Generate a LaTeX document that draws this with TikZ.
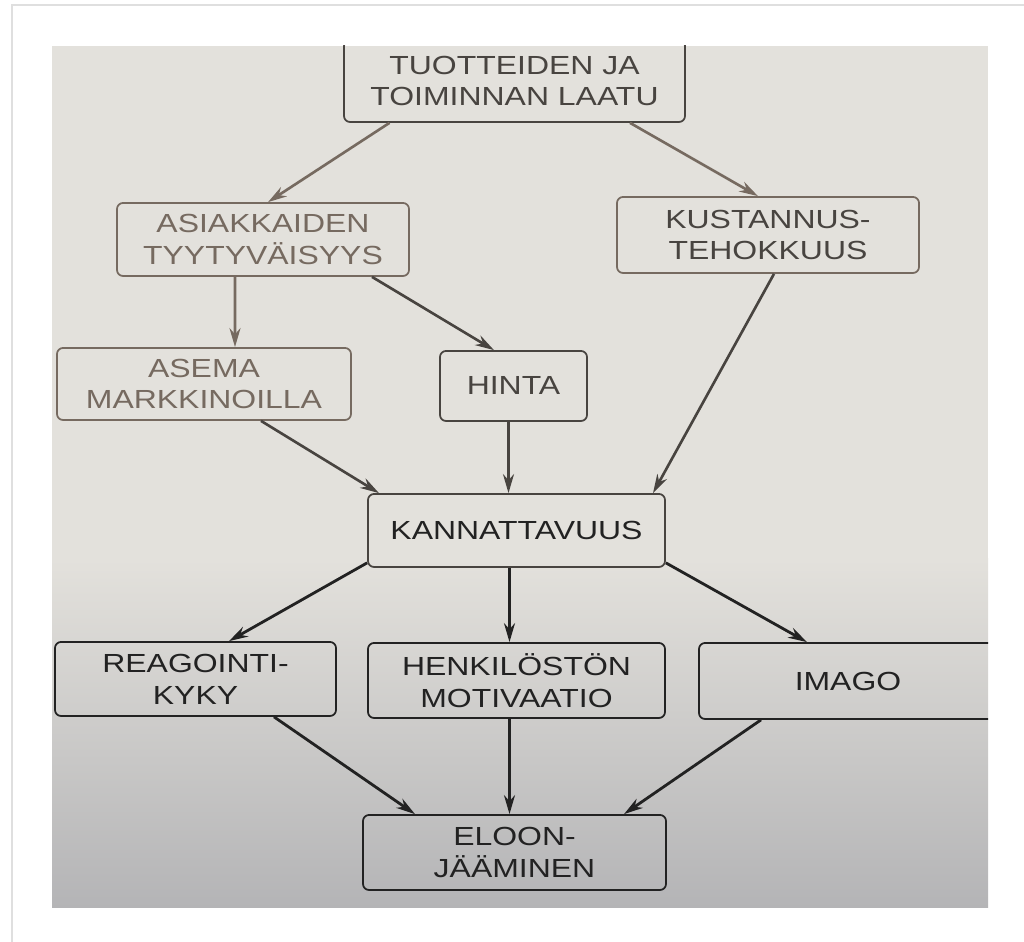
\documentclass[tikz,border=0pt]{standalone}
\usepackage{fontspec}
\setmainfont{Liberation Sans}[FakeStretch=1.22]
\usetikzlibrary{positioning,arrows.meta}
\definecolor{paper}{RGB}{227,225,220}
\definecolor{paperdark}{RGB}{180,180,182}
\definecolor{inkfade}{RGB}{118,106,96}
\definecolor{inkmid}{RGB}{72,68,64}
\definecolor{ink}{RGB}{34,34,34}

\begin{document}
\begin{tikzpicture}[>={Stealth[length=1.9mm,width=1.1mm]},
  box/.style={draw=#1,rounded corners=0.6mm,line width=0.5pt,inner sep=0pt,
    align=center,font=\fontsize{7.45}{9.1}\selectfont},
  faintarrow/.style={->,inkfade,line width=0.75pt},
  midarrow/.style={->,inkmid,line width=0.75pt},
  darkarrow/.style={->,ink,line width=0.8pt}]
\useasboundingbox (0,0) rectangle (10.24,-9.42);
\fill[white] (0,0) rectangle (10.24,-9.42);
\draw[gray!25,line width=0.8pt] (0.12,-9.42) -- (0.12,-0.05) -- (10.24,-0.05);
% photographed page
\fill[paper] (0.52,-0.46) rectangle (9.88,-5.6);
\shade[top color=paper,bottom color=paperdark] (0.52,-5.59) rectangle (9.88,-9.08);
\begin{scope}
\clip (0.52,-0.46) rectangle (9.88,-9.08);
\node[box=inkmid,text=inkmid,minimum width=3.41cm,minimum height=0.82cm] (laatu) at (5.145,-0.81) {TUOTTEIDEN JA\\TOIMINNAN LAATU};
\node[box=inkfade,text=inkfade,minimum width=2.92cm,minimum height=0.73cm] (tyyt) at (2.63,-2.395) {ASIAKKAIDEN\\TYYTYVÄISYYS};
\node[box=inkfade,text=inkmid,minimum width=3.02cm,minimum height=0.76cm] (kust) at (7.68,-2.35) {KUSTANNUS-\\TEHOKKUUS};
\node[box=inkfade,text=inkfade,minimum width=2.94cm,minimum height=0.72cm] (asema) at (2.04,-3.84) {ASEMA\\MARKKINOILLA};
\node[box=inkmid,text=inkmid,minimum width=1.47cm,minimum height=0.70cm] (hinta) at (5.135,-3.86) {HINTA};
\node[box=inkmid,text=ink,minimum width=2.97cm,minimum height=0.73cm] (kann) at (5.165,-5.305) {KANNATTAVUUS};
\node[box=ink,text=ink,minimum width=2.81cm,minimum height=0.74cm] (reag) at (1.955,-6.79) {REAGOINTI-\\KYKY};
\node[box=ink,text=ink,minimum width=2.97cm,minimum height=0.75cm] (motiv) at (5.165,-6.805) {HENKILÖSTÖN\\MOTIVAATIO};
\node[box=ink,text=ink,minimum width=2.98cm,minimum height=0.76cm] (imago) at (8.48,-6.81) {IMAGO};
\node[box=ink,text=ink,minimum width=3.03cm,minimum height=0.75cm] (eloon) at (5.145,-8.525) {ELOON-\\JÄÄMINEN};
% upper arrows
\draw[faintarrow] ([xshift=-1.25cm]laatu.south) -- ([xshift=0.05cm]tyyt.north);
\draw[faintarrow] ([xshift=1.155cm]laatu.south) -- ([xshift=-0.1cm]kust.north);
\draw[faintarrow] ([xshift=-0.28cm]tyyt.south) -- ([xshift=0.31cm]asema.north);
\draw[midarrow] ([xshift=1.09cm]tyyt.south) -- ([xshift=-0.195cm]hinta.north);
\draw[midarrow] ([xshift=0.06cm]kust.south) -- ([xshift=1.365cm]kann.north);
\draw[midarrow] ([xshift=0.57cm]asema.south) -- ([xshift=-1.375cm]kann.north);
\draw[midarrow] ([xshift=-0.05cm]hinta.south) -- ([xshift=-0.05cm]hinta.south |- kann.north);
% lower arrows
\draw[darkarrow] ([yshift=0.05cm]kann.south west) -- ([xshift=0.335cm]reag.north);
\draw[darkarrow] ([xshift=-0.07cm]kann.south) -- ([xshift=-0.07cm]kann.south |- motiv.north);
\draw[darkarrow] ([yshift=0.05cm]kann.south east) -- ([xshift=-0.41cm]imago.north);
\draw[darkarrow] ([xshift=0.785cm]reag.south) -- ([xshift=-0.995cm]eloon.north);
\draw[darkarrow] ([xshift=-0.07cm]motiv.south) -- ([xshift=-0.07cm]motiv.south |- eloon.north);
\draw[darkarrow] ([xshift=-0.87cm]imago.south) -- ([xshift=1.095cm]eloon.north);
\end{scope}
\end{tikzpicture}
\end{document}
